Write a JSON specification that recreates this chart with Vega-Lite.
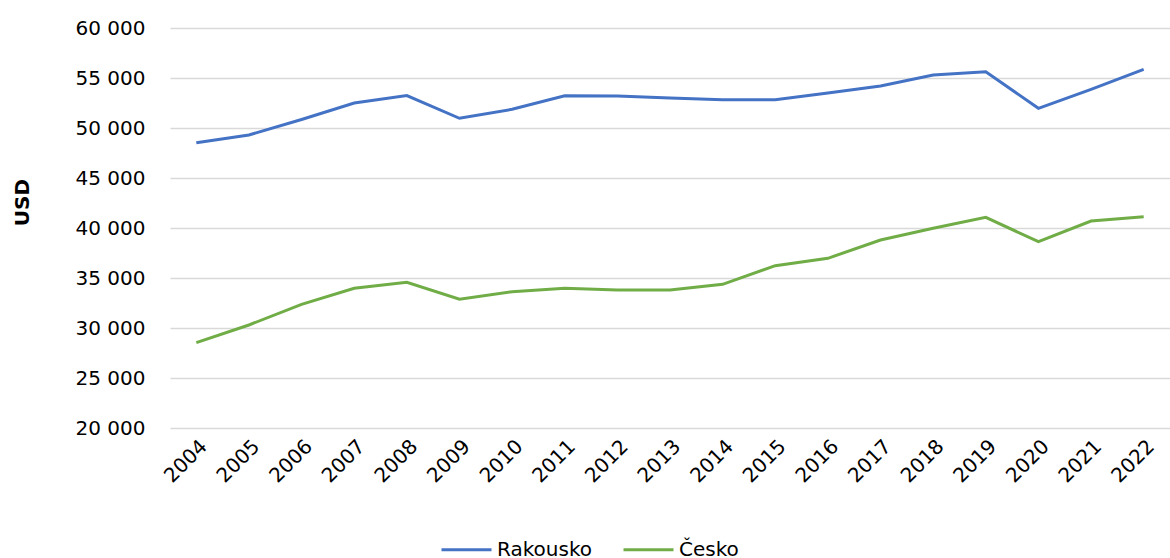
{
  "$schema": "https://vega.github.io/schema/vega-lite/v6.json",
  "autosize": "none",
  "width": 1000,
  "height": 400,
  "padding": {"left": 170, "top": 28, "right": 0, "bottom": 130},
  "background": "white",
  "config": {
    "view": {"stroke": null},
    "font": "DejaVu Sans"
  },
  "data": {
    "values": [
      {"rok": "2004", "zeme": "Rakousko", "hdp": 48530},
      {"rok": "2005", "zeme": "Rakousko", "hdp": 49300},
      {"rok": "2006", "zeme": "Rakousko", "hdp": 50850},
      {"rok": "2007", "zeme": "Rakousko", "hdp": 52500},
      {"rok": "2008", "zeme": "Rakousko", "hdp": 53250},
      {"rok": "2009", "zeme": "Rakousko", "hdp": 50970},
      {"rok": "2010", "zeme": "Rakousko", "hdp": 51870},
      {"rok": "2011", "zeme": "Rakousko", "hdp": 53230},
      {"rok": "2012", "zeme": "Rakousko", "hdp": 53200},
      {"rok": "2013", "zeme": "Rakousko", "hdp": 53000},
      {"rok": "2014", "zeme": "Rakousko", "hdp": 52830},
      {"rok": "2015", "zeme": "Rakousko", "hdp": 52830},
      {"rok": "2016", "zeme": "Rakousko", "hdp": 53500},
      {"rok": "2017", "zeme": "Rakousko", "hdp": 54200},
      {"rok": "2018", "zeme": "Rakousko", "hdp": 55300},
      {"rok": "2019", "zeme": "Rakousko", "hdp": 55630},
      {"rok": "2020", "zeme": "Rakousko", "hdp": 51970},
      {"rok": "2021", "zeme": "Rakousko", "hdp": 53870},
      {"rok": "2022", "zeme": "Rakousko", "hdp": 55870},
      {"rok": "2004", "zeme": "Česko", "hdp": 28530},
      {"rok": "2005", "zeme": "Česko", "hdp": 30300},
      {"rok": "2006", "zeme": "Česko", "hdp": 32370},
      {"rok": "2007", "zeme": "Česko", "hdp": 33970},
      {"rok": "2008", "zeme": "Česko", "hdp": 34570},
      {"rok": "2009", "zeme": "Česko", "hdp": 32870},
      {"rok": "2010", "zeme": "Česko", "hdp": 33630},
      {"rok": "2011", "zeme": "Česko", "hdp": 33970},
      {"rok": "2012", "zeme": "Česko", "hdp": 33800},
      {"rok": "2013", "zeme": "Česko", "hdp": 33800},
      {"rok": "2014", "zeme": "Česko", "hdp": 34370},
      {"rok": "2015", "zeme": "Česko", "hdp": 36230},
      {"rok": "2016", "zeme": "Česko", "hdp": 36970},
      {"rok": "2017", "zeme": "Česko", "hdp": 38800},
      {"rok": "2018", "zeme": "Česko", "hdp": 39970},
      {"rok": "2019", "zeme": "Česko", "hdp": 41070},
      {"rok": "2020", "zeme": "Česko", "hdp": 38630},
      {"rok": "2021", "zeme": "Česko", "hdp": 40700},
      {"rok": "2022", "zeme": "Česko", "hdp": 41130}
    ]
  },
  "mark": {"type": "line", "strokeWidth": 3},
  "encoding": {
    "x": {
      "field": "rok",
      "type": "ordinal",
      "scale": {"type": "point", "padding": 0.5},
      "axis": {
        "title": null,
        "labelAngle": -45,
        "labelFontSize": 20,
        "labelColor": "#000000",
        "labelPadding": 8,
        "ticks": false,
        "domain": false,
        "grid": false
      }
    },
    "y": {
      "field": "hdp",
      "type": "quantitative",
      "scale": {"domain": [20000, 60000], "nice": false, "zero": false},
      "axis": {
        "title": "USD",
        "titleFontSize": 20,
        "titleFontWeight": "bold",
        "titleColor": "#000000",
        "titleAngle": -90,
        "titleX": -148,
        "titleY": 174,
        "titleAlign": "center",
        "titleBaseline": "middle",
        "values": [20000, 25000, 30000, 35000, 40000, 45000, 50000, 55000, 60000],
        "labelExpr": "replace(format(datum.value, ','), ',', ' ')",
        "labelFontSize": 20,
        "labelColor": "#000000",
        "labelPadding": 25,
        "ticks": false,
        "domain": false,
        "grid": true,
        "gridColor": "#d9d9d9",
        "gridWidth": 1.5
      }
    },
    "color": {
      "field": "zeme",
      "type": "nominal",
      "sort": ["Rakousko", "Česko"],
      "scale": {"domain": ["Rakousko", "Česko"], "range": ["#4472C4", "#70AD47"]},
      "legend": {
        "title": null,
        "orient": "none",
        "direction": "horizontal",
        "legendX": 270,
        "legendY": 495,
        "symbolType": "stroke",
        "symbolSize": 2500,
        "symbolStrokeWidth": 3,
        "labelFontSize": 20,
        "labelColor": "#000000",
        "labelOffset": 4,
        "columnPadding": 24,
        "padding": 0
      }
    }
  }
}
